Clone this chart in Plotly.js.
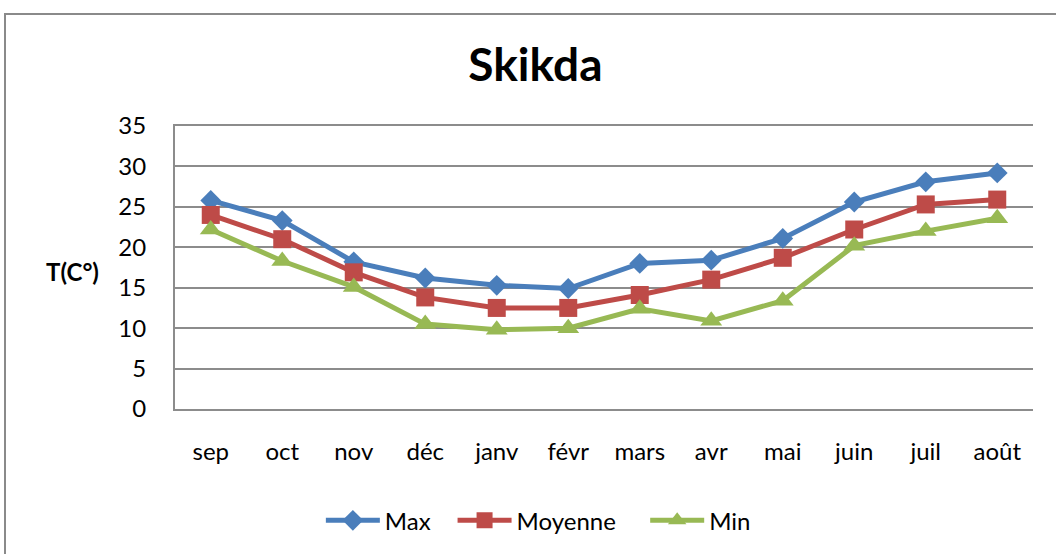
<!DOCTYPE html>
<html>
<head>
<meta charset="utf-8">
<script src="https://cdn.plot.ly/plotly-3.0.1.min.js"></script>
<style>
  html, body { margin: 0; padding: 0; background: #fff; overflow: hidden; }
  #chart { width: 1056px; height: 554px; position: absolute; left: 0; top: 0; }
  #frame { position: absolute; left: 4px; top: 13px; width: 1100px; height: 600px;
           border: 2px solid #8a8a8a; pointer-events: none; }
</style>
</head>
<body>
<div id="chart"></div>
<div id="frame"></div>
<script>
const months = ["sep", "oct", "nov", "déc", "janv", "févr", "mars", "avr", "mai", "juin", "juil", "août"];
const tMax = [25.8, 23.3, 18.2, 16.2, 15.3, 14.9, 18.0, 18.4, 21.1, 25.6, 28.1, 29.2];
const tMoy = [24.0, 21.0, 16.9, 13.8, 12.5, 12.5, 14.1, 16.0, 18.7, 22.2, 25.3, 25.9];
const tMin = [22.2, 18.3, 15.1, 10.5, 9.8, 10.0, 12.4, 10.9, 13.4, 20.2, 22.0, 23.6];

const FONT = "Lato, 'Liberation Sans', sans-serif";

const traces = [
  { name: "Max", x: months, y: tMax, type: "scatter", mode: "lines+markers", legend: "legend",
    line: { color: "#4A7EBB", width: 5 }, marker: { symbol: "diamond", size: 16, color: "#4A7EBB" } },
  { name: "Moyenne", x: months, y: tMoy, type: "scatter", mode: "lines+markers", legend: "legend2",
    line: { color: "#BE4B48", width: 5 }, marker: { symbol: "square", size: 18, color: "#BE4B48" } },
  { name: "Min", x: months, y: tMin, type: "scatter", mode: "lines+markers", legend: "legend3",
    line: { color: "#98B954", width: 5 }, marker: { symbol: "triangle-up", size: 19, color: "#98B954" } }
];

const legendBase = { orientation: "h", xanchor: "left", y: -0.39, yanchor: "middle",
                     font: { size: 24 }, itemwidth: 54, bgcolor: "rgba(0,0,0,0)" };

const layout = {
  width: 1056, height: 554,
  margin: { l: 175, r: 23, t: 126, b: 144, pad: 0 },
  paper_bgcolor: "#fff", plot_bgcolor: "#fff",
  font: { family: FONT, size: 24, color: "#000" },
  title: { text: "<b>Skikda</b>", font: { family: FONT, size: 46, color: "#000" },
           x: 0.507, xanchor: "center", y: 0.883, yanchor: "middle", yref: "container" },
  xaxis: { type: "category", range: [-0.5, 11.5], showgrid: false, zeroline: false,
           showline: true, mirror: true, linecolor: "#8c8c8c", linewidth: 2,
           ticks: "", tickfont: { size: 24 }, ticklabelstandoff: 20, fixedrange: true },
  yaxis: { range: [0, 35], dtick: 5, showgrid: true, gridcolor: "#8c8c8c", gridwidth: 2,
           zeroline: false, showline: true, linecolor: "#8c8c8c", linewidth: 2,
           ticks: "", ticklabelstandoff: 22, tickfont: { size: 24 }, fixedrange: true },
  showlegend: true,
  legend: Object.assign({}, legendBase, { x: 0.17 }),
  legend2: Object.assign({}, legendBase, { x: 0.3235 }),
  legend3: Object.assign({}, legendBase, { x: 0.548 }),
  annotations: [
    { text: "<b>T(C°)</b>", xref: "paper", yref: "paper", x: -0.12, y: 0.486,
      xanchor: "center", yanchor: "middle", showarrow: false, font: { family: FONT, size: 24 } }
  ]
};

Plotly.newPlot("chart", traces, layout, { staticPlot: true, displayModeBar: false });
</script>
</body>
</html>
